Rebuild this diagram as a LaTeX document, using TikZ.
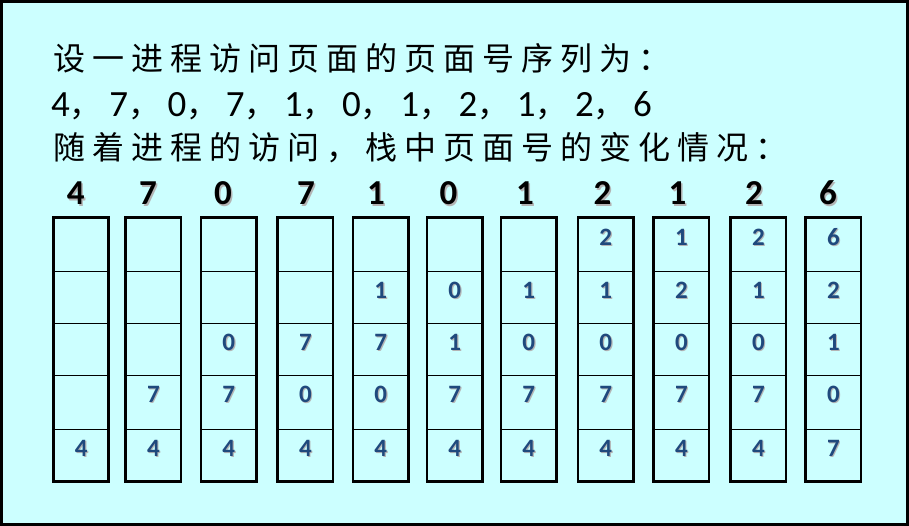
\documentclass[tikz,border=0pt]{standalone}
\usepackage{fontspec}
\setmainfont{Carlito}
\newfontfamily\cjk{Noto Sans CJK SC}
\definecolor{bgc}{HTML}{CCFFFF}
\definecolor{numc}{HTML}{1F497D}
\definecolor{shc}{HTML}{B4B4B4}
\newcommand\cjkfont{\cjk\fontsize{32}{32}\selectfont}
\def\spreadchars#1{\ifx#1\relax\else#1\hspace{7pt}\expandafter\spreadchars\fi}
\def\emark{e}
\begin{document}
\begin{tikzpicture}[x=1pt,y=-1pt,
  cell/.style={draw, line width=0.8pt, anchor=north west, inner sep=0pt, minimum width=54.5pt},
  colframe/.style={draw, line width=2.7pt},
  cellnum/.style={anchor=base, inner sep=0pt, font=\bfseries\fontsize{25}{25}\selectfont, text=numc},
  hdrnum/.style={anchor=base, inner sep=0pt, font=\bfseries\fontsize{35}{35}\selectfont},
  seqtxt/.style={anchor=base west, inner sep=0pt, font=\fontsize{37}{37}\selectfont},
  cjktxt/.style={anchor=base west, inner sep=0pt, font=\cjkfont}
]
\useasboundingbox (0,0) rectangle (909,526);
\fill[bgc] (0,0) rectangle (909,526);
\draw[line width=3pt] (1.5,1.5) rectangle (907.5,524.5);

% text lines
\node[cjktxt] (line1) at (53.5,71) {\spreadchars 设一进程访问页面的页面号序列为：\relax};
\node[seqtxt] (line2) at (51,117) {\makebox[58.2pt][l]{4{\cjk\fontsize{32}{32}\selectfont ，}}\makebox[58.2pt][l]{7{\cjk\fontsize{32}{32}\selectfont ，}}\makebox[58.2pt][l]{0{\cjk\fontsize{32}{32}\selectfont ，}}\makebox[58.2pt][l]{7{\cjk\fontsize{32}{32}\selectfont ，}}\makebox[58.2pt][l]{1{\cjk\fontsize{32}{32}\selectfont ，}}\makebox[58.2pt][l]{0{\cjk\fontsize{32}{32}\selectfont ，}}\makebox[58.2pt][l]{1{\cjk\fontsize{32}{32}\selectfont ，}}\makebox[58.2pt][l]{2{\cjk\fontsize{32}{32}\selectfont ，}}\makebox[58.2pt][l]{1{\cjk\fontsize{32}{32}\selectfont ，}}\makebox[58.2pt][l]{2{\cjk\fontsize{32}{32}\selectfont ，}}6};
\node[cjktxt] (line3) at (53.5,160) {\spreadchars 随着进程的访问，栈中页面号的变化情况：\relax};

% stack columns
\foreach \x/\vals [count=\i] in {53.5/{e,e,e,e,4},125.7/{e,e,e,7,4},201/{e,e,0,7,4},277.7/{e,e,7,0,4},353/{e,1,7,0,4},427/{e,0,1,7,4},501/{e,1,0,7,4},578/{2,1,0,7,4},653.7/{1,2,0,7,4},730.7/{2,1,0,7,4},805.7/{6,2,1,0,7}}{
  \foreach \v [count=\j] in \vals {
    \pgfmathsetmacro\rtop{{217.7,271,323,375,428.7}[\j-1]}
    \pgfmathsetmacro\rht{{53.3,52,52,53.7,52.3}[\j-1]}
    \node[cell, minimum height=\rht pt] (c\i r\j) at (\x,\rtop) {};
    \ifx\v\emark\else
      \coordinate (p\i r\j) at ([yshift=-27.5pt]c\i r\j.north);
      \node[cellnum,text=shc] at ([xshift=1.2pt,yshift=-1.2pt]p\i r\j) {\v};
      \node[cellnum] (n\i r\j) at (p\i r\j) {\v};
    \fi
  }
  \draw[colframe] (c\i r1.north west) rectangle (c\i r5.south east);
}

% header digits
\foreach \x/\d [count=\i] in {75.8/4,148/7,223/0,306/7,376/1,448.5/0,525/1,602.5/2,677.5/1,754/2,828/6}{
  \node[hdrnum,text=shc] at (\x+1.5,206.5) {\d};
  \node[hdrnum] (h\i) at (\x,205) {\d};
}
\end{tikzpicture}
\end{document}
